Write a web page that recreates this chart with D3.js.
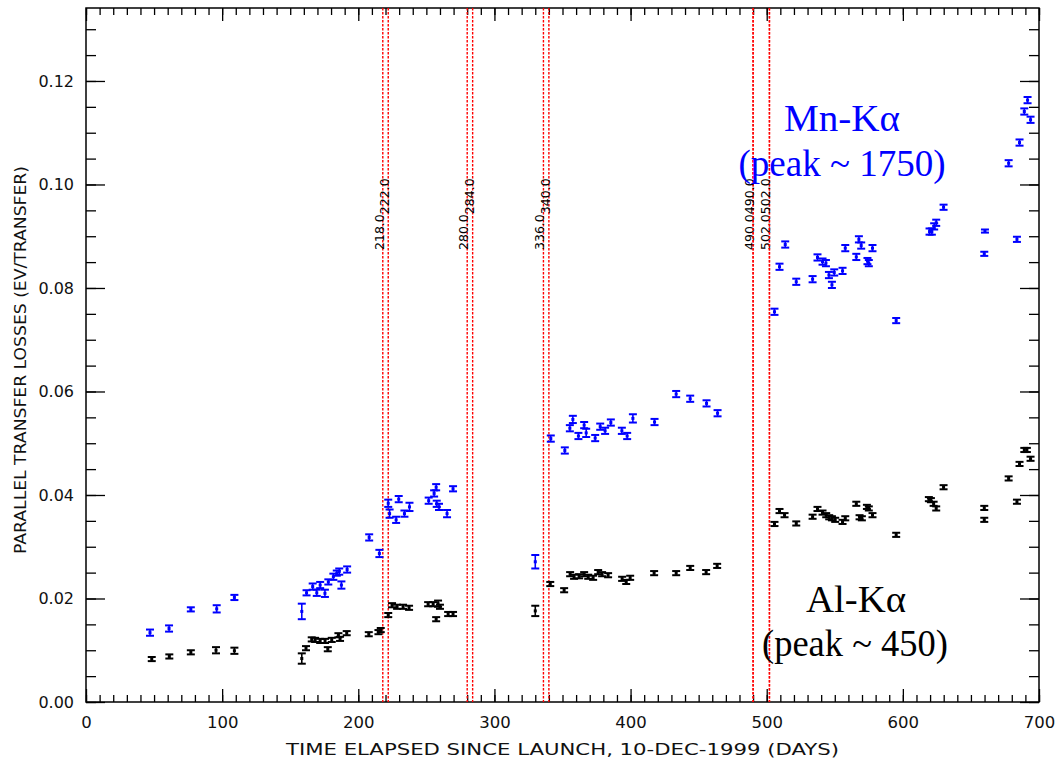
<!DOCTYPE html>
<html>
<head>
<meta charset="utf-8">
<script src="https://cdn.jsdelivr.net/npm/d3@7"></script>
<style>
  html, body { margin: 0; padding: 0; background: #fff; }
  svg { display: block; }
</style>
</head>
<body>
<svg id="chart" width="1059" height="765"></svg>
<script>
// ---------------- DATA ----------------
const mnDays = [47, 61, 77, 96, 109, 158.5, 162, 166.5, 169.5, 172, 175.5, 178, 181.7, 184.2, 186, 187.6, 191.8,
  208, 215.5, 222, 223, 227.8, 229.7, 233.9, 237.6, 251.7, 255.7, 257.2, 257.6, 259.3, 265.2, 269.6,
  330, 341.4, 351.7, 355.4, 357.6, 361.7, 365.9, 367.4, 374, 377.7, 381.3, 385.5, 393.6, 397.5, 401.7, 417.6,
  433.5, 443.8, 455.8, 463.9,
  505.7, 509.4, 513.6, 521.7, 533.7, 537.3, 541, 543.5, 545.7, 547.9, 549.6, 555.7, 557.7, 565.8, 567.7, 569.4,
  574, 575, 577.7, 595.1, 619.6, 621.3, 623, 624.5, 629.9, 659.8, 660.3, 677.7, 683.8, 685.7, 689.2, 691.6, 693.8];
const mnLoss = [0.0134, 0.0142, 0.0179, 0.0180, 0.0202, 0.0175, 0.0211, 0.0223, 0.0211, 0.0226, 0.0210, 0.0232, 0.0242, 0.0249, 0.0252, 0.0226, 0.0256,
  0.0318, 0.0287, 0.0384, 0.0364, 0.0352, 0.0392, 0.0364, 0.0377, 0.0389, 0.0403, 0.0415, 0.0383, 0.0377, 0.0364, 0.0412,
  0.0271, 0.0509, 0.0486, 0.0529, 0.0546, 0.0514, 0.0535, 0.0520, 0.0510, 0.0532, 0.0524, 0.0540, 0.0524, 0.0514, 0.0548, 0.0541,
  0.0595, 0.0586, 0.0577, 0.0558,
  0.0754, 0.0841, 0.0884, 0.0812, 0.0817, 0.0859, 0.0851, 0.0848, 0.0825, 0.0806, 0.0830, 0.0833, 0.0877, 0.0860, 0.0894, 0.0882,
  0.0852, 0.0848, 0.0877, 0.0737, 0.0909, 0.0909, 0.0919, 0.0926, 0.0956, 0.0866, 0.0910, 0.1041, 0.0894, 0.1081, 0.1141, 0.1163, 0.1125];
const mnErr = [0.0006, 0.0006, 0.0004, 0.0007, 0.0005, 0.0015, 0.0005, 0.0006, 0.0006, 0.0006, 0.0007, 0.0005, 0.0006, 0.0005, 0.0006, 0.0007, 0.0006,
  0.0006, 0.0007, 0.0007, 0.0008, 0.0006, 0.0006, 0.0006, 0.0008, 0.0006, 0.0006, 0.0006, 0.0006, 0.0006, 0.0007, 0.0005,
  0.0013, 0.0006, 0.0006, 0.0006, 0.0007, 0.0006, 0.0006, 0.0008, 0.0006, 0.0006, 0.0006, 0.0006, 0.0006, 0.0006, 0.0008, 0.0006,
  0.0006, 0.0006, 0.0006, 0.0006,
  0.0006, 0.0006, 0.0006, 0.0006, 0.0006, 0.0006, 0.0006, 0.0006, 0.0006, 0.0006, 0.0006, 0.0006, 0.0006, 0.0006, 0.0006, 0.0006,
  0.0006, 0.0006, 0.0006, 0.0005, 0.0006, 0.0006, 0.0006, 0.0006, 0.0005, 0.0004, 0.0003, 0.0006, 0.0005, 0.0006, 0.0006, 0.0006, 0.0006];

const alDays = [48.3, 61.2, 77, 95.5, 109, 158.5, 161.6, 165.8, 168.3, 172, 175.6, 177.6, 180.5, 185.4, 186.6, 191.5,
  207.7, 214.8, 216.5, 222, 224.8, 228.5, 232.9, 237.3, 251.3, 255, 257.2, 258.6, 260, 266, 269.6,
  330, 341, 351.2, 355.6, 358.5, 362.2, 365.9, 368.9, 372.5, 376.2, 379.1, 383.5, 393.8, 396.8, 399.7, 417.3,
  433.5, 443.8, 455.5, 463.6,
  505.7, 509.4, 513.1, 521.7, 533.7, 537.3, 541, 543.7, 545.9, 547.9, 550.3, 555.7, 557.7, 565.8, 568.2, 569.9,
  573.6, 575, 577.7, 595.1, 619.1, 620.6, 622.6, 624.5, 629.9, 659.8, 659.8, 677.7, 683.8, 685.7, 689.2, 691.1, 693.8];
const alLoss = [0.0083, 0.0088, 0.0096, 0.0100, 0.0099, 0.0084, 0.0104, 0.0121, 0.0120, 0.0118, 0.0118, 0.0102, 0.0120, 0.0129, 0.0122, 0.0133,
  0.0131, 0.0135, 0.0139, 0.0168, 0.0187, 0.0184, 0.0184, 0.0182, 0.0189, 0.0189, 0.0160, 0.0190, 0.0184, 0.0170, 0.0170,
  0.0176, 0.0228, 0.0216, 0.0247, 0.0242, 0.0243, 0.0247, 0.0242, 0.0240, 0.0251, 0.0247, 0.0245, 0.0238, 0.0232, 0.0240, 0.0249,
  0.0249, 0.0259, 0.0251, 0.0263,
  0.0344, 0.0369, 0.0361, 0.0345, 0.0358, 0.0373, 0.0366, 0.0361, 0.0357, 0.0355, 0.0352, 0.0348, 0.0355, 0.0383, 0.0357, 0.0355,
  0.0377, 0.0374, 0.0361, 0.0323, 0.0392, 0.0390, 0.0383, 0.0374, 0.0415, 0.0375, 0.0352, 0.0432, 0.0387, 0.0460, 0.0487, 0.0487, 0.0470];
const alErr = [0.0004, 0.0004, 0.0004, 0.0006, 0.0006, 0.001, 0.0004, 0.0004, 0.0004, 0.0004, 0.0004, 0.0004, 0.0004, 0.0004, 0.0004, 0.0004,
  0.0004, 0.0004, 0.0004, 0.0004, 0.0004, 0.0004, 0.0004, 0.0004, 0.0004, 0.0004, 0.0004, 0.0006, 0.0004, 0.0004, 0.0004,
  0.001, 0.0004, 0.0004, 0.0004, 0.0004, 0.0004, 0.0004, 0.0004, 0.0004, 0.0004, 0.0004, 0.0004, 0.0004, 0.0004, 0.0004, 0.0004,
  0.0004, 0.0004, 0.0004, 0.0004,
  0.0004, 0.0004, 0.0004, 0.0004, 0.0004, 0.0004, 0.0004, 0.0004, 0.0004, 0.0004, 0.0004, 0.0004, 0.0004, 0.0004, 0.0004, 0.0004,
  0.0004, 0.0004, 0.0004, 0.0004, 0.0004, 0.0004, 0.0004, 0.0004, 0.0004, 0.0004, 0.0004, 0.0004, 0.0004, 0.0004, 0.0004, 0.0004, 0.0004];

// Vertical marker line pairs (days)
const markerPairs = [[218, 222], [280, 284], [336, 340], [490, 490], [502, 502]];

const xTicks = [0, 100, 200, 300, 400, 500, 600, 700];
const yTicks = [0, 0.02, 0.04, 0.06, 0.08, 0.10, 0.12];
const yTickLabels = ["0.00", "0.02", "0.04", "0.06", "0.08", "0.10", "0.12"];

const xTitle = "TIME ELAPSED SINCE LAUNCH, 10-DEC-1999 (DAYS)";
const yTitle = "PARALLEL TRANSFER LOSSES (EV/TRANSFER)";

// ---------------- CHART ----------------
const svg = d3.select("#chart");
const L = 86, R = 1039, T = 8, B = 702;
const x = d3.scaleLinear().domain([0, 700]).range([L, R]);
const y = d3.scaleLinear().domain([0, 0.1341]).range([B, T]);

const tickFont = "'DejaVu Sans', sans-serif";

const xMinor = d3.range(0, 701, 10);
const yMinor = d3.range(0, 0.1341, 0.005);

function styleAxis(g) {
  g.select(".domain").remove();
  g.selectAll("line").attr("stroke", "#000").attr("stroke-width", 1.3);
}

svg.append("g").attr("transform", `translate(0,${B})`)
  .call(d3.axisBottom(x).tickValues(xMinor).tickSize(-7).tickFormat(""))
  .call(styleAxis);
svg.append("g").attr("transform", `translate(0,${T})`)
  .call(d3.axisTop(x).tickValues(xMinor).tickSize(-7).tickFormat(""))
  .call(styleAxis);
svg.append("g").attr("transform", `translate(${L},0)`)
  .call(d3.axisLeft(y).tickValues(yMinor).tickSize(-10).tickFormat(""))
  .call(styleAxis);
svg.append("g").attr("transform", `translate(${R},0)`)
  .call(d3.axisRight(y).tickValues(yMinor).tickSize(-10).tickFormat(""))
  .call(styleAxis);

const xb = svg.append("g").attr("transform", `translate(0,${B})`)
  .call(d3.axisBottom(x).tickValues(xTicks).tickSize(-13).tickPadding(14).tickFormat(d3.format("d")))
  .call(styleAxis);
xb.selectAll("text").attr("font-family", tickFont).attr("font-size", 16.5).attr("fill", "#111");
svg.append("g").attr("transform", `translate(0,${T})`)
  .call(d3.axisTop(x).tickValues(xTicks).tickSize(-13).tickFormat(""))
  .call(styleAxis);
const yl = svg.append("g").attr("transform", `translate(${L},0)`)
  .call(d3.axisLeft(y).tickValues(yTicks).tickSize(-19).tickPadding(12).tickFormat((d, i) => yTickLabels[i]))
  .call(styleAxis);
yl.selectAll("text").attr("font-family", tickFont).attr("font-size", 16).attr("fill", "#111");
svg.append("g").attr("transform", `translate(${R},0)`)
  .call(d3.axisRight(y).tickValues(yTicks).tickSize(-19).tickFormat(""))
  .call(styleAxis);

svg.append("rect").attr("x", L).attr("y", T).attr("width", R - L).attr("height", B - T)
  .attr("fill", "none").attr("stroke", "#000").attr("stroke-width", 1.5);

svg.append("text").attr("x", (L + R) / 2).attr("y", 755)
  .attr("text-anchor", "middle").attr("font-family", tickFont).attr("font-size", 16).attr("fill", "#111")
  .attr("textLength", 553).attr("lengthAdjust", "spacingAndGlyphs")
  .text(xTitle);
svg.append("text").attr("transform", `translate(26,${(T + B) / 2 + 5}) rotate(-90)`)
  .attr("text-anchor", "middle").attr("font-family", tickFont).attr("font-size", 15).attr("fill", "#111")
  .attr("textLength", 388).attr("lengthAdjust", "spacingAndGlyphs")
  .text(yTitle);

const vl = svg.append("g");
markerPairs.forEach(pair => {
  let yStart = 250;
  pair.forEach(d => {
    vl.append("line").attr("x1", x(d)).attr("x2", x(d)).attr("y1", T).attr("y2", B)
      .attr("stroke", "#ff0000").attr("stroke-width", 1.4).attr("stroke-dasharray", "2.5,1.5");
    const t = vl.append("text")
      .attr("transform", `translate(${x(d) + 1},${yStart}) rotate(-90)`)
      .attr("font-family", tickFont).attr("font-size", 12.5).attr("fill", "#000")
      .text(d3.format(".1f")(d));
    yStart -= t.node().getComputedTextLength();
  });
});

function drawSeries(days, vals, errs, color) {
  const g = svg.append("g");
  const pts = days.map((d, i) => ({ d, v: vals[i], e: errs[i] }));
  const sel = g.selectAll("g.pt").data(pts).join("g").attr("class", "pt");
  sel.append("line")
    .attr("x1", p => x(p.d)).attr("x2", p => x(p.d))
    .attr("y1", p => y(p.v - p.e)).attr("y2", p => y(p.v + p.e))
    .attr("stroke", color).attr("stroke-width", 1.6);
  sel.append("line")
    .attr("x1", p => x(p.d) - 4).attr("x2", p => x(p.d) + 4)
    .attr("y1", p => y(p.v + p.e)).attr("y2", p => y(p.v + p.e))
    .attr("stroke", color).attr("stroke-width", 2);
  sel.append("line")
    .attr("x1", p => x(p.d) - 4).attr("x2", p => x(p.d) + 4)
    .attr("y1", p => y(p.v - p.e)).attr("y2", p => y(p.v - p.e))
    .attr("stroke", color).attr("stroke-width", 2);
  sel.append("rect")
    .attr("x", p => x(p.d) - 1.5).attr("y", p => y(p.v) - 1.5)
    .attr("width", 3).attr("height", 3).attr("fill", color);
}
drawSeries(mnDays, mnLoss, mnErr, "#0000ff");
drawSeries(alDays, alLoss, alErr, "#000000");

const serif = "'Liberation Serif', 'Times New Roman', serif";
svg.append("text").attr("x", 842).attr("y", 131).attr("text-anchor", "middle")
  .attr("font-family", serif).attr("font-size", 38).attr("fill", "#0000ff")
  .attr("textLength", 116).attr("lengthAdjust", "spacingAndGlyphs").text("Mn-Kα");
svg.append("text").attr("x", 842).attr("y", 176).attr("text-anchor", "middle")
  .attr("font-family", serif).attr("font-size", 37).attr("fill", "#0000ff")
  .attr("textLength", 207).attr("lengthAdjust", "spacingAndGlyphs").text("(peak ~ 1750)");
svg.append("text").attr("x", 856).attr("y", 612).attr("text-anchor", "middle")
  .attr("font-family", serif).attr("font-size", 38).attr("fill", "#000")
  .attr("textLength", 100).attr("lengthAdjust", "spacingAndGlyphs").text("Al-Kα");
svg.append("text").attr("x", 855).attr("y", 656).attr("text-anchor", "middle")
  .attr("font-family", serif).attr("font-size", 37).attr("fill", "#000")
  .attr("textLength", 186).attr("lengthAdjust", "spacingAndGlyphs").text("(peak ~ 450)");
</script>
</body>
</html>
